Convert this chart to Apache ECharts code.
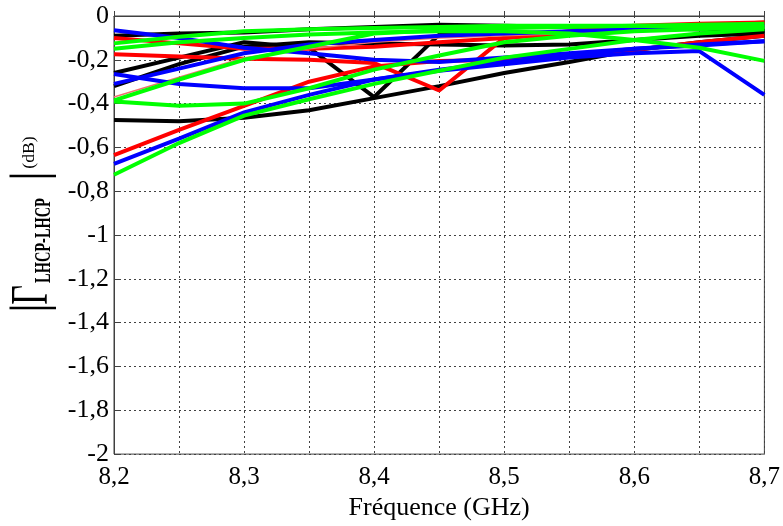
<!DOCTYPE html>
<html>
<head>
<meta charset="utf-8">
<style>html,body{margin:0;padding:0;background:#fff;}#chart{width:783px;height:526px;}</style>
<script src="https://cdn.jsdelivr.net/npm/echarts@6/dist/echarts.min.js"></script>
</head>
<body>
<div id="chart"></div>
<script>
// Frequencies (GHz)
var freq = [8.2, 8.25, 8.3, 8.35, 8.4, 8.45, 8.5, 8.55, 8.6, 8.65, 8.7];

// |Gamma LHCP-LHCP| (dB) curves
var red1 = [-0.10, -0.125, -0.15, -0.15, -0.14, -0.12, -0.10, -0.08, -0.06, -0.045, -0.03];
var red2 = [-0.175, -0.185, -0.195, -0.20, -0.215, -0.34, -0.10, -0.07, -0.045, -0.035, -0.03];
var red3 = [-0.635, -0.52, -0.41, -0.30, -0.23, -0.205, -0.20, -0.18, -0.155, -0.12, -0.09];
var red4 = [-0.37, -0.28, -0.19, -0.15, -0.12, -0.10, -0.09, -0.08, -0.07, -0.06, -0.05];

var black1 = [-0.09, -0.08, -0.075, -0.06, -0.05, -0.04, -0.045, -0.05, -0.055, -0.06, -0.07];
var black2 = [-0.26, -0.19, -0.12, -0.145, -0.37, -0.085, -0.05, -0.05, -0.055, -0.06, -0.065];
var black3 = [-0.32, -0.22, -0.14, -0.12, -0.125, -0.13, -0.135, -0.13, -0.11, -0.09, -0.08];
var black4 = [-0.475, -0.48, -0.465, -0.43, -0.375, -0.32, -0.26, -0.21, -0.155, -0.12, -0.09];

var blue1 = [-0.065, -0.10, -0.145, -0.17, -0.20, -0.21, -0.19, -0.17, -0.15, -0.135, -0.115];
var blue2 = [-0.265, -0.31, -0.33, -0.33, -0.29, -0.25, -0.22, -0.19, -0.17, -0.16, -0.36];
var blue3 = [-0.675, -0.56, -0.44, -0.36, -0.29, -0.245, -0.21, -0.18, -0.15, -0.13, -0.115];
var blue4 = [-0.31, -0.24, -0.17, -0.13, -0.11, -0.09, -0.08, -0.07, -0.06, -0.05, -0.045];

var green1 = [-0.125, -0.095, -0.07, -0.06, -0.055, -0.05, -0.045, -0.045, -0.045, -0.05, -0.05];
var green2 = [-0.385, -0.29, -0.20, -0.14, -0.08, -0.065, -0.055, -0.05, -0.045, -0.04, -0.035];
var green3 = [-0.39, -0.41, -0.40, -0.33, -0.245, -0.18, -0.12, -0.09, -0.07, -0.06, -0.05];
var green4 = [-0.725, -0.58, -0.455, -0.38, -0.31, -0.25, -0.19, -0.15, -0.11, -0.08, -0.06];
var green5 = [-0.15, -0.12, -0.10, -0.085, -0.075, -0.07, -0.07, -0.08, -0.11, -0.145, -0.205];

var curves = [
  {d: black1, c: '#000000', w: 4}, {d: black2, c: '#000000', w: 4},
  {d: black3, c: '#000000', w: 4}, {d: black4, c: '#000000', w: 4},
  {d: red1, c: '#ff0000', w: 4}, {d: red2, c: '#ff0000', w: 4},
  {d: red3, c: '#ff0000', w: 4}, {d: red4, c: '#f07070', w: 1.5},
  {d: blue1, c: '#0000ff', w: 4}, {d: blue2, c: '#0000ff', w: 4},
  {d: blue3, c: '#0000ff', w: 4}, {d: blue4, c: '#0000ff', w: 4},
  {d: green1, c: '#00ff00', w: 4}, {d: green2, c: '#00ff00', w: 4},
  {d: green3, c: '#00ff00', w: 4}, {d: green4, c: '#00ff00', w: 4},
  {d: green5, c: '#00ff00', w: 4}
];

function pairs(arr) { return freq.map(function (f, i) { return [f, arr[i]]; }); }
function comma(v) { return String(Math.round(v * 10) / 10).replace('.', ','); }

var serif = "'Liberation Serif', 'Times New Roman', serif";
var chart = echarts.init(document.getElementById('chart'));
chart.setOption({
  animation: false,
  backgroundColor: '#ffffff',
  grid: {left: 114, right: 16, top: 16, bottom: 63, show: true, borderColor: '#404040', borderWidth: 1, backgroundColor: 'transparent'},
  xAxis: {
    type: 'value', min: 8.2, max: 8.7, interval: 0.05,
    name: 'Fréquence (GHz)', nameLocation: 'middle', nameGap: 33,
    nameTextStyle: {fontFamily: serif, fontSize: 26, color: '#000'},
    axisLine: {show: true, lineStyle: {color: '#404040', width: 1}},
    axisTick: {show: true, inside: true, length: 5, lineStyle: {color: '#404040'}},
    splitLine: {show: true, lineStyle: {color: '#404040', width: 1, type: [2, 3]}},
    axisLabel: {
      margin: 11, fontFamily: serif, fontSize: 25, color: '#000',
      formatter: function (v) {
        var t = v * 10;
        return Math.abs(t - Math.round(t)) < 1e-6 ? comma(v) : '';
      }
    }
  },
  yAxis: {
    type: 'value', min: -2, max: 0, interval: 0.2,
    axisLine: {show: true, lineStyle: {color: '#404040', width: 1}},
    axisTick: {show: true, inside: true, length: 5, lineStyle: {color: '#404040'}},
    splitLine: {show: true, lineStyle: {color: '#404040', width: 1, type: [2, 3]}},
    axisLabel: {margin: 5, fontFamily: serif, fontSize: 26, color: '#000', formatter: comma}
  },
  graphic: [
    {type: 'text', x: 32, y: 308, rotation: Math.PI / 2, style: {text: '|', fontFamily: serif, fontSize: 50, fill: '#000', align: 'center', verticalAlign: 'middle'}},
    {type: 'text', x: 33, y: 295, rotation: Math.PI / 2, scaleX: 0.65, style: {text: 'Γ', fontFamily: serif, fontSize: 52, fill: '#000', align: 'center', verticalAlign: 'middle'}},
    {type: 'text', x: 44, y: 240.5, rotation: Math.PI / 2, scaleX: 0.6, style: {text: 'LHCP-LHCP', fontFamily: serif, fontWeight: 'bold', fontSize: 24, fill: '#000', align: 'center', verticalAlign: 'middle'}},
    {type: 'text', x: 32, y: 176, rotation: Math.PI / 2, style: {text: '|', fontFamily: serif, fontSize: 50, fill: '#000', align: 'center', verticalAlign: 'middle'}},
    {type: 'text', x: 30, y: 152.5, rotation: Math.PI / 2, scaleX: 1.1, style: {text: '(dB)', fontFamily: serif, fontSize: 16, fill: '#000', align: 'center', verticalAlign: 'middle'}}
  ],
  series: curves.map(function (s) {
    return {type: 'line', data: pairs(s.d), showSymbol: false, symbol: 'none', smooth: false,
      lineStyle: {color: s.c, width: s.w}, itemStyle: {color: s.c}, z: 3};
  })
});
</script>
</body>
</html>
